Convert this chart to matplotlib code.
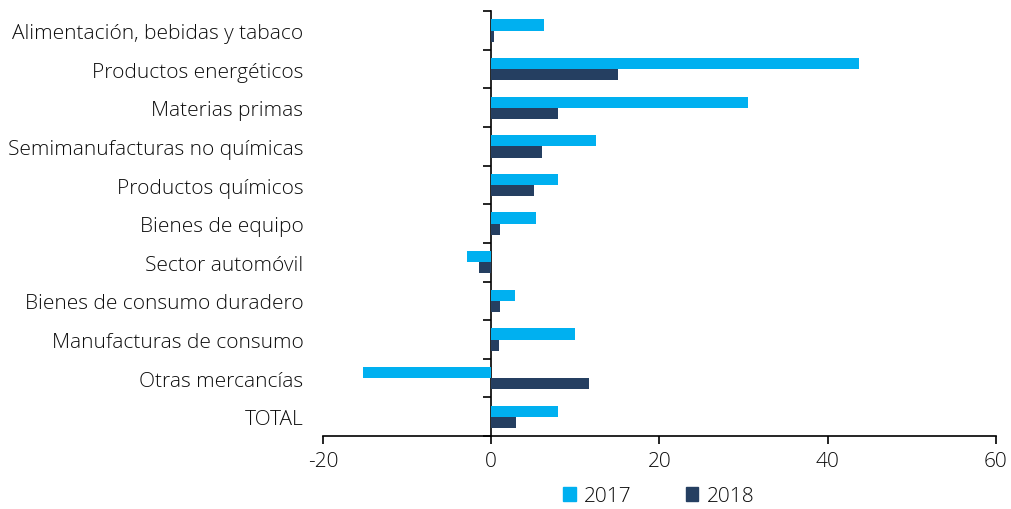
import matplotlib
matplotlib.use("Agg")
import matplotlib.pyplot as plt
import numpy as np
from matplotlib.patches import Patch

categories = ["Alimentación, bebidas y tabaco", "Productos energéticos", "Materias primas",
              "Semimanufacturas no químicas", "Productos químicos", "Bienes de equipo",
              "Sector automóvil", "Bienes de consumo duradero", "Manufacturas de consumo",
              "Otras mercancías", "TOTAL"]
v2017 = [6.3, 43.7, 30.5, 12.5, 7.9, 5.4, -2.9, 2.8, 10.0, -15.2, 7.9]
v2018 = [0.3, 15.1, 7.9, 6.1, 5.1, 1.1, -1.4, 1.1, 0.9, 11.7, 3.0]
series_labels = ["2017", "2018"]
xticks = [-20, 0, 20, 40, 60]

c17 = "#00B0F0"
c18 = "#253F61"

plt.rcParams['font.family'] = ['Open Sans', 'DejaVu Sans']
plt.rcParams['font.weight'] = 'light'
fs = 15
tc = "#0d0d0d"

fig = plt.figure(figsize=(10.12, 5.10), dpi=100)
ax = fig.add_axes([0.319, 0.143, 0.665, 0.833])

n = len(categories)
y = np.arange(n)
h = 0.29
ax.barh(y - h / 2, v2017, height=h, color=c17, label=series_labels[0])
ax.barh(y + h / 2, v2018, height=h, color=c18, label=series_labels[1])

ax.set_xlim(-20, 60)
ax.set_ylim(n - 0.5, -0.5)
ax.set_xticks(xticks)
ax.set_xticklabels([str(t) for t in xticks])
ax.set_yticks(y)
ax.set_yticklabels(categories)
ax.tick_params(axis='y', length=0, pad=14, labelsize=fs, labelcolor=tc)
ax.tick_params(axis='x', length=6, width=1.2, direction='out', labelsize=fs,
               labelcolor=tc, pad=5)

for s in ['top', 'right', 'left']:
    ax.spines[s].set_visible(False)
ax.spines['bottom'].set_linewidth(1.2)

# zero-line axis with ticks at category boundaries
sec = ax.secondary_yaxis(0.25)
sec.set_yticks(np.arange(n + 1) - 0.5)
sec.set_yticklabels([])
sec.tick_params(length=6, width=1.2, direction='out')
sec.spines['left'].set_linewidth(1.2)

handles = [Patch(color=c17, label=series_labels[0]), Patch(color=c18, label=series_labels[1])]
fig.legend(handles=handles, loc='center', bbox_to_anchor=(0.651, 0.025), ncol=2,
           frameon=False, fontsize=fs, handlelength=0.6, handleheight=0.6,
           columnspacing=2.6, handletextpad=0.4, labelcolor=tc)

fig.savefig("out.png", dpi=100)
